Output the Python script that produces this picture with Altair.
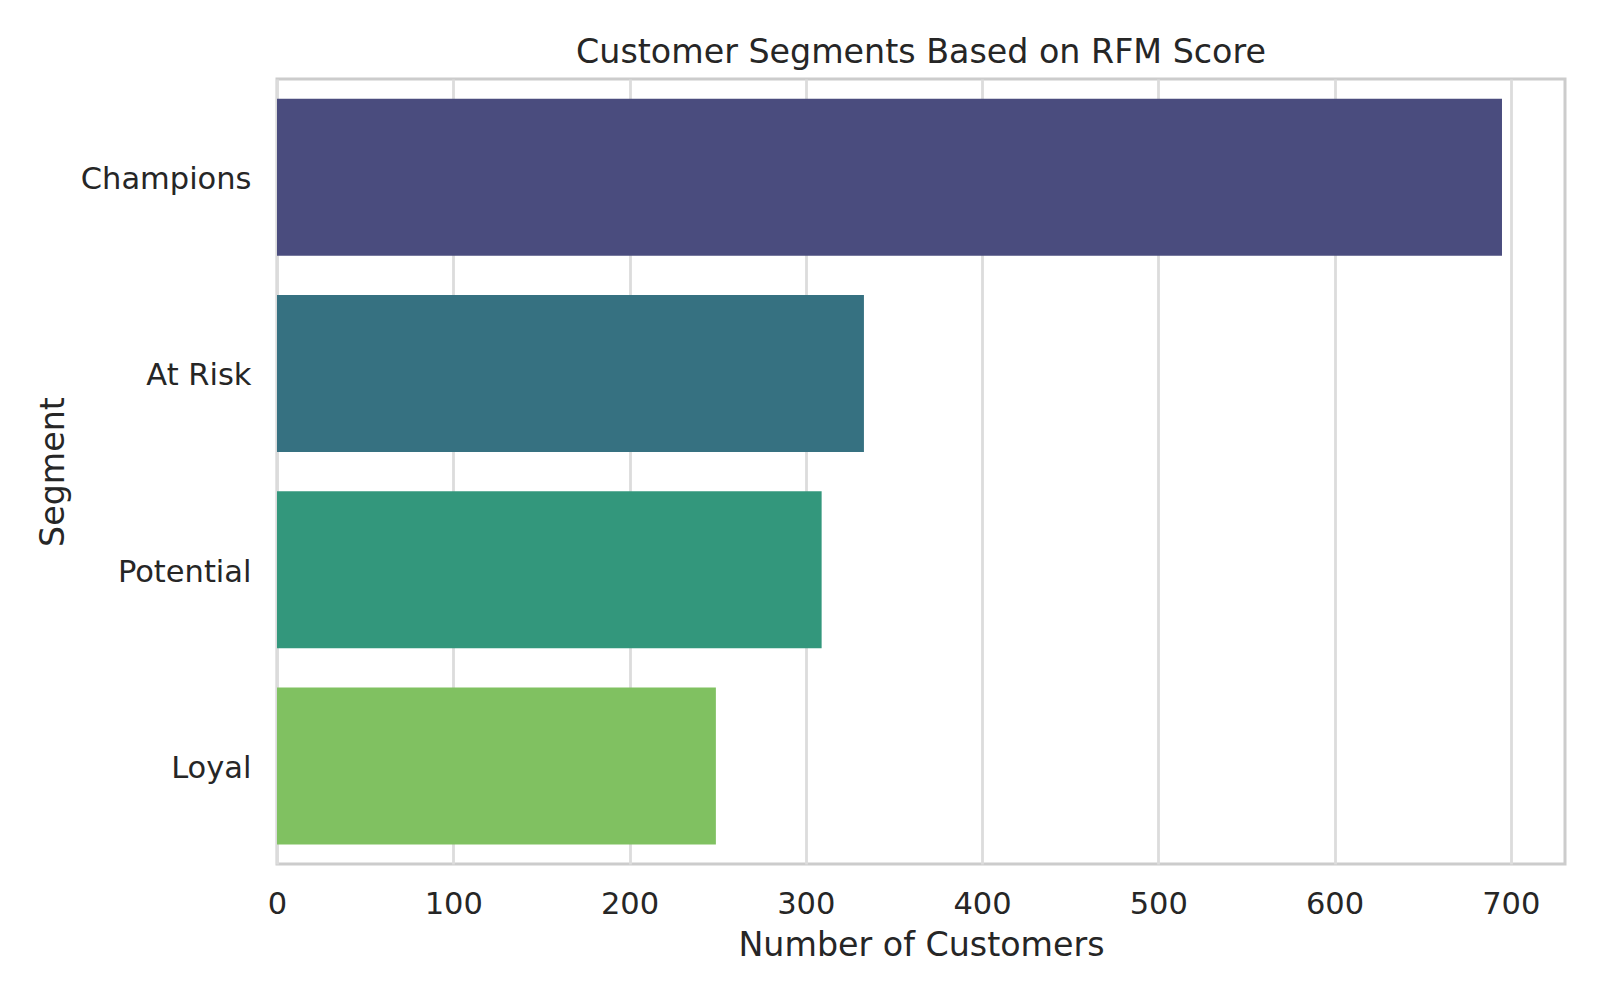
import altair as alt
import pandas as pd

segments = ["Champions", "At Risk", "Potential", "Loyal"]
counts = [695, 333, 309, 249]
bar_colors = ["#4a4c7e", "#367181", "#33977c", "#80c161"]
x_ticks = [0, 100, 200, 300, 400, 500, 600, 700]

df = pd.DataFrame({"Segment": segments, "Count": counts})

FONT = "DejaVu Sans"
TXT = "#262626"

chart = alt.Chart(df).mark_bar().encode(
    x=alt.X(
        "Count:Q",
        scale=alt.Scale(domain=[0, 730.75], nice=False, zero=True),
        axis=alt.Axis(
            values=x_ticks,
            title="Number of Customers",
            grid=True,
            gridColor="#dcdcdc",
            gridWidth=2.8,
            domain=False,
            ticks=False,
            labelFont=FONT,
            labelFontSize=30.5,
            labelColor=TXT,
            labelBaseline="alphabetic",
            labelPadding=49,
            labelFlush=False,
            titleFont=FONT,
            titleFontSize=33.3,
            titleFontWeight="normal",
            titleColor=TXT,
            titleBaseline="alphabetic",
            titleY=91,
        ),
    ),
    y=alt.Y(
        "Segment:N",
        sort=segments,
        scale=alt.Scale(paddingInner=0.2, paddingOuter=0.1),
        axis=alt.Axis(
            title="Segment",
            grid=False,
            domain=False,
            ticks=False,
            labelFont=FONT,
            labelFontSize=30.5,
            labelColor=TXT,
            labelPadding=26,
            labelOffset=3,
            titleFont=FONT,
            titleFontSize=33.3,
            titleFontWeight="normal",
            titleColor=TXT,
            titleAngle=270,
            titleBaseline="alphabetic",
            titleAlign="center",
            titleX=-214,
            titleY=392.5,
        ),
    ),
    color=alt.Color(
        "Segment:N",
        scale=alt.Scale(domain=segments, range=bar_colors),
        legend=None,
    ),
).properties(
    width=1288,
    height=785,
    title=alt.TitleParams(
        text="Customer Segments Based on RFM Score",
        font=FONT,
        fontSize=33.3,
        fontWeight="normal",
        color=TXT,
        anchor="middle",
        frame="group",
        baseline="alphabetic",
        offset=17,
        dy=34,
    ),
    autosize=alt.AutoSizeParams(type="none"),
    padding={"left": 277, "top": 79, "right": 35, "bottom": 136},
    background="white",
).configure_view(
    stroke="#cccccc",
    strokeWidth=3,
)

chart.save("out.html", embed_options={"renderer": "svg", "actions": False})
